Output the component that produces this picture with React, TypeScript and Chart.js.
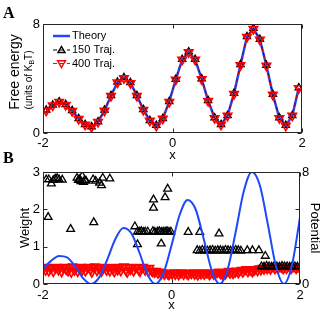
import React, { useEffect, useRef } from 'react';
import { Chart, registerables } from 'chart.js';

Chart.register(...registerables);

// ---------- Panel A data ----------
const xA = [-1.95, -1.85, -1.75, -1.65, -1.55, -1.45, -1.35, -1.25, -1.15, -1.05, -0.95, -0.85, -0.75, -0.65, -0.55, -0.45, -0.35, -0.25, -0.15, -0.05, 0.05, 0.15, 0.25, 0.35, 0.45, 0.55, 0.65, 0.75, 0.85, 0.95, 1.05, 1.15, 1.25, 1.35, 1.45, 1.55, 1.65, 1.75, 1.85, 1.95];
const theoryA = [1.66, 2.03, 2.28, 2.08, 1.64, 1.05, 0.61, 0.44, 0.81, 1.66, 2.74, 3.72, 4.04, 3.68, 2.74, 1.71, 0.9, 0.54, 1.05, 2.3, 3.92, 5.39, 5.93, 5.39, 3.97, 2.37, 1.1, 0.61, 1.27, 2.89, 5.0, 7.06, 7.65, 6.86, 4.95, 2.82, 1.1, 0.54, 1.27, 3.31];
const traj150A = [1.68, 2.05, 2.3, 2.1, 1.66, 1.07, 0.63, 0.46, 0.83, 1.68, 2.76, 3.74, 4.07, 3.7, 2.76, 1.73, 0.92, 0.56, 1.07, 2.32, 3.94, 5.41, 5.96, 5.41, 3.99, 2.39, 1.12, 0.63, 1.29, 2.91, 5.02, 7.08, 7.69, 6.88, 4.97, 2.84, 1.12, 0.56, 1.29, 3.33];
const traj400A = [1.64, 2.01, 2.27, 2.06, 1.62, 1.03, 0.6, 0.43, 0.8, 1.64, 2.72, 3.7, 4.02, 3.66, 2.72, 1.69, 0.89, 0.53, 1.04, 2.28, 3.9, 5.37, 5.92, 5.37, 3.95, 2.35, 1.09, 0.6, 1.26, 2.87, 4.98, 7.04, 7.64, 6.84, 4.93, 2.8, 1.09, 0.53, 1.26, 3.29];

// ---------- Panel B data ----------
const xPotB = [-2, -1.875, -1.75, -1.625, -1.5, -1.375, -1.25, -1.125, -1, -0.875, -0.75, -0.625, -0.5, -0.375, -0.25, -0.125, 0, 0.125, 0.25, 0.375, 0.5, 0.625, 0.75, 0.875, 1, 1.125, 1.25, 1.375, 1.5, 1.625, 1.75, 1.875, 2];
const potentialB = [1.1, 1.65, 2.0, 1.9, 1.25, 0.4, 0, 0.47, 1.75, 3.2, 4.0, 3.63, 2.25, 0.69, 0, 0.77, 2.75, 4.91, 6.0, 5.34, 3.25, 0.99, 0, 1.06, 3.75, 6.62, 8.0, 7.05, 4.25, 1.28, 0, 1.35, 4.75];

const w150X = [
  -1.95, -1.91, -1.87, -1.84, -1.81, -1.78, -1.75, -1.7,
  -1.92, -1.57, -1.21,
  -1.47, -1.45, -1.43, -1.41, -1.39, -1.37, -1.35, -1.33,
  -1.22, -1.18, -1.12, -1.09, -1.07, -0.96,
  -0.57, -0.53, -0.53, -0.5, -0.47, -0.44, -0.41, -0.37, -0.29, -0.26, -0.22, -0.19, -0.16, -0.13, -0.1, -0.07, -0.04, -0.01,
  -0.16, -0.28, -0.28, -0.1, -0.06,
  0.26, 0.44, 0.74,
  0.4, 0.44, 0.48, 0.52, 0.56, 0.6, 0.64, 0.68, 0.72, 0.76, 0.8, 0.84, 0.88, 0.92, 0.96, 1.0, 1.04, 1.08,
  1.18, 1.26, 1.36, 1.46,
  1.4, 1.44, 1.48, 1.52, 1.56, 1.6, 1.64, 1.68, 1.72, 1.76, 1.8, 1.84, 1.88, 1.92, 1.96,
];
const w150W = [
  2.8, 2.8, 2.69, 2.78, 2.82, 2.83, 2.8, 2.79,
  1.79, 1.47, 1.65,
  2.84, 2.78, 2.8, 2.75, 2.89, 2.73, 2.78, 2.76,
  2.8, 2.76, 2.71, 2.64, 2.84, 2.82,
  1.54, 1.06, 1.4, 1.4, 1.41, 1.39, 1.4, 1.4, 1.41, 1.39, 1.4, 1.41, 1.39, 1.4, 1.4, 1.41, 1.39, 1.4,
  1.08, 2.26, 2.04, 2.32, 2.55,
  1.39, 1.39, 1.35,
  0.9, 0.89, 0.91, 0.9, 0.89, 0.9, 0.91, 0.89, 0.9, 0.9, 0.89, 0.91, 0.9, 0.89, 0.9, 0.91, 0.9, 0.89,
  0.9, 0.9, 0.9, 0.75,
  0.47, 0.46, 0.48, 0.47, 0.46, 0.48, 0.47, 0.46, 0.48, 0.47, 0.47, 0.46, 0.48, 0.47, 0.46,
];

const w400X = [
  -1.99, -1.96, -1.94, -1.91, -1.89, -1.86, -1.84, -1.81, -1.79, -1.76,
  -1.74, -1.71, -1.69, -1.66, -1.64, -1.61, -1.59, -1.56, -1.54, -1.51,
  -1.49, -1.46, -1.44, -1.41, -1.39, -1.36, -1.34, -1.31, -1.29, -1.26,
  -1.24, -1.21, -1.19, -1.16, -1.14, -1.11, -1.09, -1.06, -1.04, -1.01,
  -0.99, -0.96, -0.94, -0.91, -0.89, -0.86, -0.84, -0.81, -0.79, -0.76,
  -0.74, -0.71, -0.69, -0.66, -0.64, -0.61, -0.59, -0.56, -0.54, -0.51,
  -0.49, -0.46, -0.44, -0.41, -0.39, -0.36, -0.34, -0.31, -0.29, -0.26,
  -0.24, -0.21, -0.19, -0.16, -0.14, -0.11, -0.09, -0.06, -0.04, -0.01,
  0.01, 0.04, 0.06, 0.09, 0.11, 0.14, 0.16, 0.19, 0.21, 0.24,
  0.26, 0.29, 0.31, 0.34, 0.36, 0.39, 0.41, 0.44, 0.46, 0.49,
  0.51, 0.54, 0.56, 0.59, 0.61, 0.64, 0.66, 0.69, 0.71, 0.74,
  0.76, 0.79, 0.81, 0.84, 0.86, 0.89, 0.91, 0.94, 0.96, 0.99,
  1.01, 1.04, 1.06, 1.09, 1.11, 1.14, 1.16, 1.19, 1.21, 1.24,
  1.26, 1.29, 1.31, 1.34, 1.36, 1.39, 1.41, 1.44, 1.46, 1.49,
  1.51, 1.54, 1.56, 1.59, 1.61, 1.64, 1.66, 1.69, 1.71, 1.74,
  1.76, 1.79, 1.81, 1.84, 1.86, 1.89, 1.91, 1.94, 1.96, 1.99,
];
const w400W = [
  0.44, 0.36, 0.46, 0.34, 0.43, 0.45, 0.33, 0.42, 0.46, 0.37,
  0.44, 0.32, 0.43, 0.46, 0.38, 0.34, 0.45, 0.31, 0.47, 0.36,
  0.44, 0.33, 0.43, 0.46, 0.37, 0.45, 0.34, 0.42, 0.46, 0.38,
  0.31, 0.44, 0.47, 0.35, 0.43, 0.45, 0.33, 0.42, 0.46, 0.36,
  0.44, 0.34, 0.45, 0.39, 0.32, 0.46, 0.37, 0.43, 0.35, 0.45,
  0.47, 0.36, 0.31, 0.44, 0.38, 0.46, 0.34, 0.43, 0.45, 0.37,
  0.33, 0.44, 0.46, 0.36, 0.42, 0.33, 0.43, 0.35, 0.32, 0.31,
  0.35, 0.28, 0.33, 0.26, 0.31, 0.25, 0.3, 0.27, 0.24, 0.3,
  0.26, 0.31, 0.25, 0.3, 0.24, 0.29, 0.31, 0.25, 0.3, 0.27,
  0.24, 0.3, 0.27, 0.31, 0.25, 0.29, 0.23, 0.3, 0.26, 0.31,
  0.25, 0.29, 0.3, 0.24, 0.28, 0.31, 0.25, 0.29, 0.3, 0.33,
  0.27, 0.25, 0.3, 0.26, 0.32, 0.35, 0.28, 0.33, 0.27, 0.31,
  0.36, 0.29, 0.34, 0.38, 0.31, 0.37, 0.4, 0.32, 0.38, 0.35,
  0.32, 0.37, 0.4, 0.35, 0.42, 0.37, 0.43, 0.39, 0.44, 0.4,
  0.45, 0.39, 0.44, 0.46, 0.4, 0.45, 0.41, 0.46, 0.44, 0.4,
  0.45, 0.41, 0.46, 0.44, 0.4, 0.45, 0.46, 0.41, 0.45, 0.43,
];

// ---------- ticks ----------
const xTicks = [-2, 0, 2];
const freeEnergyTicks = [0, 8];
const weightTicks = [0, 1, 2, 3];
const potentialTicks = [0, 2.6667, 5.3333, 8];
const potentialLabelled = [0, 8];

const FONT = '"Liberation Sans", Arial, Helvetica, sans-serif';
const BLUE = 'rgb(30,72,255)';
const RED = '#ff0000';

const pts = (xs: number[], ys: number[]) => xs.map((x, i) => ({ x, y: ys[i] }));

const framePlugin = {
  id: 'frameTicks',
  afterDatasetsDraw(chart: any) {
    const { ctx, chartArea } = chart;
    const L = Math.round(chartArea.left) + 0.5;
    const R = Math.round(chartArea.right) - 0.5;
    const T = Math.round(chartArea.top) + 0.5;
    const B = Math.round(chartArea.bottom) - 0.5;
    const tl = 4;
    ctx.save();
    ctx.strokeStyle = '#262626';
    ctx.lineWidth = 1;
    ctx.strokeRect(L, T, R - L, B - T);
    ctx.beginPath();
    const xs = chart.scales.x;
    xs.ticks.forEach((t: any) => {
      const p = Math.round(xs.getPixelForValue(t.value)) + 0.5;
      ctx.moveTo(p, B); ctx.lineTo(p, B - tl);
      ctx.moveTo(p, T); ctx.lineTo(p, T + tl);
    });
    const ys = chart.scales.y;
    const y1 = chart.scales.y1;
    ys.ticks.forEach((t: any) => {
      const p = Math.round(ys.getPixelForValue(t.value)) + 0.5;
      ctx.moveTo(L, p); ctx.lineTo(L + tl, p);
      if (!y1) { ctx.moveTo(R, p); ctx.lineTo(R - tl, p); }
    });
    if (y1) {
      y1.ticks.forEach((t: any) => {
        const p = Math.round(y1.getPixelForValue(t.value)) + 0.5;
        ctx.moveTo(R, p); ctx.lineTo(R - tl, p);
      });
    }
    ctx.stroke();
    ctx.restore();
  },
};

function triangle(ctx: CanvasRenderingContext2D, cx: number, cy: number, r: number, down: boolean) {
  const s = down ? -1 : 1;
  ctx.beginPath();
  ctx.moveTo(cx, cy - s * r);
  ctx.lineTo(cx + r * 0.866, cy + s * r / 2);
  ctx.lineTo(cx - r * 0.866, cy + s * r / 2);
  ctx.closePath();
  ctx.stroke();
}

const panelATextPlugin = {
  id: 'panelAText',
  afterDraw(chart: any) {
    const { ctx } = chart;
    ctx.save();
    ctx.fillStyle = '#000';
    ctx.textBaseline = 'middle';
    ctx.textAlign = 'center';
    ctx.save();
    ctx.translate(15, 72);
    ctx.rotate(-Math.PI / 2);
    ctx.font = `14px ${FONT}`;
    ctx.fillText('Free energy', 0, 0);
    ctx.restore();

    ctx.save();
    ctx.translate(29, 80);
    ctx.rotate(-Math.PI / 2);
    ctx.font = `10px ${FONT}`;
    const p1 = '(units of K';
    const p3 = 'T)';
    const w1 = ctx.measureText(p1).width;
    const w3 = ctx.measureText(p3).width;
    ctx.font = `7px ${FONT}`;
    const w2 = ctx.measureText('B').width;
    const total = w1 + w2 + w3;
    let x0 = -total / 2;
    ctx.textAlign = 'left';
    ctx.font = `10px ${FONT}`;
    ctx.fillText(p1, x0, 0);
    x0 += w1;
    ctx.font = `7px ${FONT}`;
    ctx.fillText('B', x0, 3);
    x0 += w2;
    ctx.font = `10px ${FONT}`;
    ctx.fillText(p3, x0, 0);
    ctx.restore();

    // legend
    const lx0 = 53, lx1 = 70, tx = 72;
    const rows = [36, 50, 63.5];
    ctx.font = `11px ${FONT}`;
    ctx.textAlign = 'left';
    ctx.textBaseline = 'middle';
    ctx.strokeStyle = BLUE; ctx.lineWidth = 2.5;
    ctx.beginPath(); ctx.moveTo(lx0, rows[0]); ctx.lineTo(lx1, rows[0]); ctx.stroke();
    ctx.fillStyle = '#000';
    ctx.fillText('Theory', tx, rows[0]);
    ctx.strokeStyle = '#000'; ctx.lineWidth = 1; ctx.setLineDash([4, 3]);
    ctx.beginPath(); ctx.moveTo(lx0, rows[1]); ctx.lineTo(lx1, rows[1]); ctx.stroke();
    ctx.setLineDash([]); ctx.lineWidth = 1.5;
    triangle(ctx, 61.5, rows[1] + 0.5, 4, false);
    ctx.fillText('150 Traj.', tx, rows[1]);
    ctx.strokeStyle = RED; ctx.lineWidth = 1; ctx.setLineDash([4, 3]);
    ctx.beginPath(); ctx.moveTo(lx0, rows[2]); ctx.lineTo(lx1, rows[2]); ctx.stroke();
    ctx.setLineDash([]); ctx.lineWidth = 1.5;
    triangle(ctx, 61.5, rows[2] - 0.5, 4.5, true);
    ctx.fillStyle = '#000';
    ctx.fillText('400 Traj.', tx, rows[2]);
    ctx.restore();
  },
};

const tickFont = { family: FONT, size: 13 };
const titleFont = { family: FONT, size: 13 };

function xScale(height: number, labelPad: number) {
  return {
    type: 'linear',
    min: -2,
    max: 2,
    afterBuildTicks: (s: any) => { s.ticks = xTicks.map((v) => ({ value: v })); },
    afterFit: (s: any) => { s.height = height; },
    grid: { display: false, drawTicks: false },
    border: { display: false },
    ticks: { font: tickFont, color: '#000', padding: labelPad, maxRotation: 0, autoSkip: false },
    title: { display: true, text: 'x', font: titleFont, color: '#000', padding: { top: 0, bottom: 0 } },
  };
}

function configA(): any {
  return {
    type: 'scatter',
    data: {
      datasets: [
        {
          label: '400 Traj.', data: pts(xA, traj400A), order: 0, showLine: true,
          borderColor: RED, borderWidth: 1, borderDash: [4, 3],
          pointStyle: 'triangle', rotation: 180, pointRadius: 4.8, pointBorderWidth: 1.7,
          pointBorderColor: RED, pointBackgroundColor: 'rgba(0,0,0,0)',
        },
        {
          label: '150 Traj.', data: pts(xA, traj150A), order: 1, showLine: true,
          borderColor: '#000', borderWidth: 1, borderDash: [4, 3],
          pointStyle: 'triangle', pointRadius: 4, pointBorderWidth: 1.5,
          pointBorderColor: '#000', pointBackgroundColor: 'rgba(0,0,0,0)',
        },
        {
          label: 'Theory', data: pts(xA, theoryA), order: 2, showLine: true,
          borderColor: BLUE, borderWidth: 2.5, pointRadius: 0,
        },
      ],
    },
    options: {
      animation: false,
      responsive: false,
      devicePixelRatio: 1,
      layout: { padding: { top: 24, right: 31, bottom: 154, left: 0 } },
      plugins: { legend: { display: false }, tooltip: { enabled: false } },
      scales: {
        x: xScale(30, 3),
        y: {
          type: 'linear', min: 0, max: 8,
          afterBuildTicks: (s: any) => { s.ticks = freeEnergyTicks.map((v) => ({ value: v })); },
          afterFit: (s: any) => { s.width = 43; },
          grid: { display: false, drawTicks: false },
          border: { display: false },
          ticks: { font: tickFont, color: '#000', padding: 3 },
        },
      },
    },
    plugins: [framePlugin, panelATextPlugin],
  };
}

function configB(): any {
  return {
    type: 'scatter',
    data: {
      datasets: [
        {
          label: 'Potential', data: pts(xPotB, potentialB), yAxisID: 'y1', order: 0, showLine: true,
          borderColor: BLUE, borderWidth: 2, pointRadius: 0, cubicInterpolationMode: 'monotone', clip: 0,
        },
        {
          label: '150 Traj.', data: pts(w150X, w150W), yAxisID: 'y', order: 1,
          pointStyle: 'triangle', pointRadius: 4.5, pointBorderWidth: 1.3,
          pointBorderColor: '#000', pointBackgroundColor: 'rgba(0,0,0,0)', clip: 0,
        },
        {
          label: '400 Traj.', data: pts(w400X, w400W), yAxisID: 'y', order: 2,
          pointStyle: 'triangle', rotation: 180, pointRadius: 4.6, pointBorderWidth: 1.6,
          pointBorderColor: RED, pointBackgroundColor: 'rgba(255,0,0,0.25)', clip: 0,
        },
      ],
    },
    options: {
      animation: false,
      responsive: false,
      devicePixelRatio: 1,
      layout: { padding: { top: 172, right: 0, bottom: 4, left: 0 } },
      plugins: { legend: { display: false }, tooltip: { enabled: false } },
      scales: {
        x: xScale(29, 4),
        y: {
          type: 'linear', position: 'left', min: 0, max: 3,
          afterBuildTicks: (s: any) => { s.ticks = weightTicks.map((v) => ({ value: v })); },
          afterFit: (s: any) => { s.width = 43; },
          grid: { display: false, drawTicks: false },
          border: { display: false },
          ticks: { font: tickFont, color: '#000', padding: 3 },
          title: { display: true, text: 'Weight', font: titleFont, color: '#000', padding: { top: 18, bottom: 0 } },
        },
        y1: {
          type: 'linear', position: 'right', min: 0, max: 8,
          afterBuildTicks: (s: any) => { s.ticks = potentialTicks.map((v) => ({ value: v })); },
          afterFit: (s: any) => { s.width = 33; },
          grid: { display: false, drawTicks: false },
          border: { display: false },
          ticks: {
            font: tickFont, color: '#000', padding: 2,
            callback: (v: number) => (potentialLabelled.includes(v) ? String(v) : ''),
          },
          title: { display: true, text: 'Potential', font: titleFont, color: '#000', padding: { top: 11, bottom: 0 } },
        },
      },
    },
    plugins: [framePlugin],
  };
}

export default function App() {
  const refA = useRef<HTMLCanvasElement>(null);
  const refB = useRef<HTMLCanvasElement>(null);
  useEffect(() => {
    const a = new Chart(refA.current as HTMLCanvasElement, configA());
    const b = new Chart(refB.current as HTMLCanvasElement, configB());
    return () => { a.destroy(); b.destroy(); };
  }, []);
  const panelLabel: React.CSSProperties = {
    position: 'absolute', left: 3, font: 'bold 16px "Liberation Serif", "Times New Roman", serif',
    lineHeight: '16px', color: '#000',
  };
  return (
    <div style={{ position: 'absolute', left: 0, top: 0, width: 333, height: 317, background: '#fff', overflow: 'hidden' }}>
      <canvas ref={refA} width={333} height={317} style={{ position: 'absolute', left: 0, top: 0 }} />
      <canvas ref={refB} width={333} height={317} style={{ position: 'absolute', left: 0, top: 0 }} />
      <div style={{ ...panelLabel, top: 5 }}>A</div>
      <div style={{ ...panelLabel, top: 150 }}>B</div>
    </div>
  );
}
